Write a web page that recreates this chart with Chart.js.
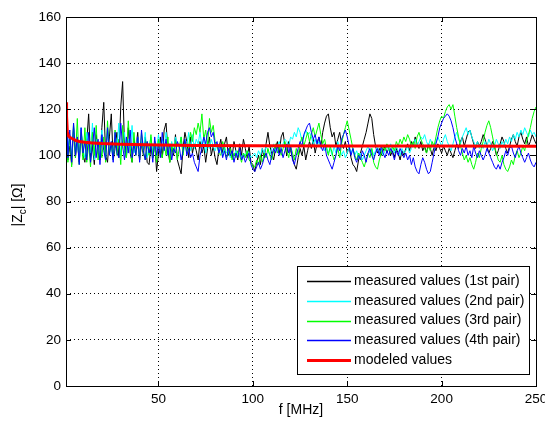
<!DOCTYPE html>
<html>
<head>
<meta charset="utf-8">
<script src="https://cdn.jsdelivr.net/npm/chart.js@4/dist/chart.umd.min.js"></script>
<style>
  body { margin: 0; background: #fff; }
  canvas { display: block; }
</style>
</head>
<body>
<canvas id="chart" width="545" height="425"></canvas>
<script>
// частоты измерений, МГц
const freq = [
  1, 2, 3, 4, 5, 6, 7, 8, 9, 10, 11, 12, 13, 14, 15, 16, 17, 18, 19, 20, 21, 22, 23, 24, 25,
  26, 27, 28, 29, 30, 31, 32, 33, 34, 35, 36, 37, 38, 39, 40, 41, 42, 43, 44, 45, 46, 47, 48, 49, 50,
  51, 52, 53, 54, 55, 56, 57, 58, 59, 60, 61, 62, 63, 64, 65, 66, 67, 68, 69, 70, 71, 72, 73, 74, 75,
  76, 77, 78, 79, 80, 81, 82, 83, 84, 85, 86, 87, 88, 89, 90, 91, 92, 93, 94, 95, 96, 97, 98, 99, 100,
  101, 102, 103, 104, 105, 106, 107, 108, 109, 110, 111, 112, 113, 114, 115, 116, 117, 118, 119, 120, 121, 122, 123, 124, 125,
  126, 127, 128, 129, 130, 131, 132, 133, 134, 135, 136, 137, 138, 139, 140, 141, 142, 143, 144, 145, 146, 147, 148, 149, 150,
  151, 152, 153, 154, 155, 156, 157, 158, 159, 160, 161, 162, 163, 164, 165, 166, 167, 168, 169, 170, 171, 172, 173, 174, 175,
  176, 177, 178, 179, 180, 181, 182, 183, 184, 185, 186, 187, 188, 189, 190, 191, 192, 193, 194, 195, 196, 197, 198, 199, 200,
  201, 202, 203, 204, 205, 206, 207, 208, 209, 210, 211, 212, 213, 214, 215, 216, 217, 218, 219, 220, 221, 222, 223, 224, 225,
  226, 227, 228, 229, 230, 231, 232, 233, 234, 235, 236, 237, 238, 239, 240, 241, 242, 243, 244, 245, 246, 247, 248, 249, 250,
];

// измеренные значения |Zc|, Ом
const pair1 = [
  110, 98, 104, 96, 112, 99, 107, 97, 111, 100,
  97, 106, 118, 99, 104, 96, 109, 101, 98, 112,
  123, 100, 97, 108, 118, 98, 103, 110, 99, 121,
  132, 104, 99, 112, 101, 97, 107, 103, 110, 98,
  105, 100, 108, 97, 96, 104, 99, 106, 93, 101,
  108, 99, 111, 114, 102, 97, 104, 100, 109, 98,
  95, 92, 103, 110, 106, 99, 108, 101, 105, 102,
  98, 106, 101, 104, 97, 103, 108, 100, 104, 99,
  96, 103, 107, 101, 105, 108, 100, 104, 99, 106,
  102, 98, 105, 100, 107, 103, 99, 104, 97, 96,
  93, 97, 100, 96, 103, 99, 105, 110, 104, 101,
  98, 103, 106, 101, 108, 110, 104, 100, 106, 102,
  99, 96, 94, 99, 103, 100, 104, 98, 102, 106,
  103, 107, 101, 105, 108, 104, 110, 114, 117, 118,
  112, 108, 110, 104, 107, 110, 105, 103, 106, 101,
  104, 99, 96, 95, 93, 98, 101, 104, 107, 110,
  114, 118, 116, 109, 104, 101, 103, 100, 102, 104,
  101, 103, 100, 102, 99, 103, 101, 98, 102, 100,
  103, 105, 102, 106, 104, 108, 105, 103, 106, 102,
  104, 101, 105, 103, 100, 104, 102, 105, 103, 101,
  104, 102, 100, 103, 101, 99, 102, 105, 103, 106,
  108, 104, 107, 110, 111, 108, 105, 103, 106, 104,
  106, 109, 107, 104, 101, 103, 106, 104, 100, 102,
  105, 108, 106, 103, 101, 104, 107, 109, 106, 104,
  108, 110, 107, 105, 108, 104, 106, 109, 107, 105,
];
const pair2 = [
  118, 103, 109, 99, 113, 101, 106, 98, 112, 102,
  99, 110, 104, 101, 114, 98, 107, 103, 100, 111,
  104, 99, 112, 101, 106, 98, 109, 103, 114, 100,
  105, 110, 99, 107, 102, 113, 101, 104, 108, 100,
  106, 102, 110, 99, 104, 108, 101, 106, 103, 109,
  101, 107, 103, 110, 104, 100, 106, 102, 108, 105,
  103, 108, 101, 106, 104, 110, 102, 109, 103, 107,
  105, 110, 104, 108, 101, 106, 103, 107, 104, 102,
  105, 101, 103, 100, 104, 101, 102, 99, 101, 100,
  102, 100, 101, 99, 101, 100, 102, 101, 99, 100,
  101, 99, 102, 100, 103, 101, 104, 102, 100, 103,
  105, 102, 104, 106, 103, 105, 107, 106, 104, 108,
  107, 110, 108, 112, 110, 106, 108, 111, 109, 110,
  108, 105, 107, 104, 106, 103, 105, 102, 104, 101,
  103, 100, 104, 101, 106, 103, 100, 102, 99, 101,
  104, 101, 103, 100, 102, 99, 101, 98, 100, 102,
  104, 101, 103, 100, 102, 104, 101, 103, 100, 102,
  104, 102, 105, 103, 101, 104, 102, 100, 103, 101,
  102, 104, 101, 103, 105, 107, 104, 106, 108, 107,
  109, 106, 104, 107, 105, 103, 106, 108, 106, 104,
  107, 109, 106, 104, 102, 105, 108, 110, 107, 105,
  108, 110, 112, 109, 111, 108, 106, 104, 106, 103,
  105, 103, 106, 104, 107, 105, 102, 104, 107, 105,
  103, 106, 104, 107, 105, 108, 106, 109, 107, 110,
  108, 111, 109, 112, 110, 108, 111, 109, 110, 108,
];
const pair3 = [
  129, 97, 108, 95, 114, 99, 116, 96, 110, 98,
  112, 97, 105, 95, 110, 100, 113, 98, 106, 99,
  108, 97, 115, 101, 104, 98, 111, 100, 107, 96,
  113, 102, 99, 115, 103, 97, 110, 100, 106, 98,
  110, 101, 98, 106, 100, 109, 99, 104, 97, 107,
  101, 99, 105, 100, 108, 97, 104, 101, 106, 98,
  103, 108, 100, 106, 101, 104, 110, 106, 112, 109,
  114, 110, 118, 107, 111, 104, 116, 110, 113, 106,
  104, 101, 100, 106, 103, 99, 101, 103, 98, 101,
  99, 102, 100, 97, 101, 99, 102, 98, 97, 95,
  95, 98, 96, 100, 97, 101, 99, 103, 100, 98,
  102, 105, 101, 104, 100, 103, 106, 102, 99, 104,
  101, 98, 103, 100, 105, 108, 104, 107, 110, 106,
  109, 112, 108, 111, 114, 109, 105, 107, 103, 100,
  104, 101, 98, 100, 103, 99, 105, 109, 112, 115,
  111, 107, 103, 100, 98, 101, 99, 97, 95, 98,
  101, 99, 103, 97, 95, 94, 98, 101, 104, 102,
  105, 103, 101, 104, 102, 106, 104, 107, 105, 108,
  106, 109, 107, 104, 106, 103, 108, 110, 107, 105,
  103, 101, 104, 102, 106, 104, 108, 112, 115, 117,
  116, 119, 121, 122, 120, 122, 117, 112, 108, 104,
  101, 98, 100, 97, 99, 96, 94, 97, 101, 99,
  103, 106, 110, 113, 115, 112, 108, 104, 101, 98,
  97, 100, 96, 94, 93, 95, 98, 96, 100, 102,
  99, 101, 104, 102, 106, 109, 112, 116, 119, 121,
];
const pair4 = [
  128, 99, 111, 97, 114, 100, 108, 96, 112, 101,
  106, 98, 110, 97, 104, 112, 99, 107, 96, 109,
  102, 98, 112, 100, 106, 97, 110, 101, 99, 114,
  104, 98, 108, 101, 111, 99, 105, 100, 108, 97,
  111, 102, 98, 106, 101, 104, 97, 108, 100, 105,
  99, 110, 102, 107, 100, 105, 98, 103, 101, 106,
  104, 98, 102, 107, 100, 103, 99, 101, 97, 95,
  93, 100, 103, 108, 105, 110, 112, 108, 110, 104,
  106, 101, 104, 99, 102, 98, 103, 100, 102, 97,
  101, 99, 103, 98, 100, 97, 99, 101, 96, 94,
  93, 95, 97, 94, 96, 99, 101, 98, 96, 100,
  103, 101, 104, 100, 103, 99, 102, 105, 101, 104,
  98, 96, 100, 103, 106, 104, 109, 111, 113, 114,
  110, 107, 109, 105, 108, 104, 102, 105, 100, 98,
  96, 94, 97, 100, 104, 102, 107, 109, 111, 108,
  104, 100, 103, 99, 97, 100, 98, 102, 100, 97,
  101, 103, 100, 98, 101, 103, 100, 104, 101, 99,
  102, 100, 103, 101, 98, 102, 100, 103, 101, 99,
  101, 98, 100, 96, 99, 95, 93, 92, 96, 99,
  97, 94, 92, 93, 97, 101, 105, 108, 112, 114,
  116, 117, 118, 117, 115, 112, 108, 105, 102, 100,
  103, 101, 104, 100, 102, 99, 104, 101, 99, 102,
  100, 98, 100, 103, 101, 99, 97, 95, 94, 96,
  94, 97, 99, 102, 100, 103, 104, 101, 99, 102,
  104, 101, 99, 97, 99, 101, 98, 96, 95, 97,
];

// модельная кривая
const modeledFreq = [1, 1.3, 1.7, 2.3, 3, 4.4, 6, 8, 11, 15, 20, 30, 50, 70, 100, 150, 200, 250];
const modeled = [123, 117, 110, 108.5, 107.8, 107.2, 106.5, 106, 105.7, 105.4, 105.1, 104.8, 104.5, 104.3, 104.2, 104.1, 104.1, 104];

const xTicks = [50, 100, 150, 200, 250];
const yTicks = [0, 20, 40, 60, 80, 100, 120, 140, 160];

const FONT = "'Liberation Sans', Arial, sans-serif";

function xy(xs, ys) {
  return xs.map((x, i) => ({ x: x, y: ys[i] }));
}

function series(label, color, xs, ys, width, order) {
  return {
    label: label,
    data: xy(xs, ys),
    borderColor: color,
    backgroundColor: color,
    borderWidth: width,
    pointRadius: 0,
    tension: 0,
    fill: false,
    order: order,
  };
}

// рамка осей, засечки внутрь, подпись Y с индексом и легенда
const matlabLook = {
  id: "matlabLook",
  afterDatasetsDraw(chart) {
    const ctx = chart.ctx;
    const a = chart.chartArea;
    const sx = chart.scales.x;
    const sy = chart.scales.y;
    ctx.save();
    ctx.strokeStyle = "#000";
    ctx.lineWidth = 1;
    ctx.beginPath();
    xTicks.forEach((v) => {
      const px = Math.round(sx.getPixelForValue(v)) + 0.5;
      ctx.moveTo(px, a.bottom);
      ctx.lineTo(px, a.bottom - 5);
      ctx.moveTo(px, a.top);
      ctx.lineTo(px, a.top + 5);
    });
    yTicks.forEach((v) => {
      const py = Math.round(sy.getPixelForValue(v)) + 0.5;
      ctx.moveTo(a.left, py);
      ctx.lineTo(a.left + 5, py);
      ctx.moveTo(a.right, py);
      ctx.lineTo(a.right - 5, py);
    });
    ctx.stroke();
    ctx.strokeRect(Math.round(a.left) + 0.5, Math.round(a.top) + 0.5,
      Math.round(a.right - a.left), Math.round(a.bottom - a.top));

    // подпись оси Y: |Zc| [Ω]
    ctx.translate(18, 205);
    ctx.rotate(-Math.PI / 2);
    ctx.fillStyle = "#000";
    ctx.textBaseline = "middle";
    const f1 = "14px " + FONT;
    const f2 = "10px " + FONT;
    ctx.font = f1;
    const p1 = "|Z";
    const p3 = "| [Ω]";
    const w1 = ctx.measureText(p1).width;
    const w3 = ctx.measureText(p3).width;
    ctx.font = f2;
    const w2 = ctx.measureText("c").width;
    let x0 = -(w1 + w2 + w3) / 2;
    ctx.font = f1;
    ctx.fillText(p1, x0, 0);
    ctx.font = f2;
    ctx.fillText("c", x0 + w1, 5);
    ctx.font = f1;
    ctx.fillText(p3, x0 + w1 + w2, 0);
    ctx.restore();

    // легенда
    ctx.save();
    const box = { left: 297, top: 266, right: 529, bottom: 374 };
    ctx.fillStyle = "#fff";
    ctx.fillRect(box.left, box.top, box.right - box.left, box.bottom - box.top);
    ctx.strokeStyle = "#000";
    ctx.lineWidth = 1;
    ctx.strokeRect(box.left + 0.5, box.top + 0.5, box.right - box.left, box.bottom - box.top);
    ctx.font = "14px " + FONT;
    ctx.textBaseline = "middle";
    chart.data.datasets.forEach((ds, i) => {
      const y = 281 + i * 19.8;
      ctx.strokeStyle = ds.borderColor;
      ctx.lineWidth = ds.borderWidth > 1 ? ds.borderWidth : 1.5;
      ctx.beginPath();
      ctx.moveTo(307, Math.round(y) + 0.5);
      ctx.lineTo(351, Math.round(y) + 0.5);
      ctx.stroke();
      ctx.fillStyle = "#000";
      ctx.fillText(ds.label, 354, y);
    });
    ctx.restore();
  },
};

new Chart(document.getElementById("chart"), {
  type: "line",
  data: {
    datasets: [
      series("measured values (1st pair)", "#000000", freq, pair1, 1, 4),
      series("measured values (2nd pair)", "#00ffff", freq, pair2, 1, 3),
      series("measured values (3rd pair)", "#00ff00", freq, pair3, 1, 2),
      series("measured values (4th pair)", "#0000ff", freq, pair4, 1, 1),
      series("modeled values", "#ff0000", modeledFreq, modeled, 3, 0),
    ],
  },
  options: {
    responsive: false,
    animation: false,
    layout: { padding: { left: 0, right: 9, top: 17, bottom: 0 } },
    plugins: {
      legend: { display: false },
      tooltip: { enabled: false },
    },
    scales: {
      x: {
        type: "linear",
        min: 1,
        max: 250,
        afterBuildTicks: (scale) => {
          scale.ticks = xTicks.map((v) => ({ value: v }));
        },
        afterFit: (scale) => {
          scale.height = 39;
          scale.paddingLeft = 0;
          scale.paddingRight = 0;
        },
        grid: { color: "#000", lineWidth: 1, drawTicks: false },
        border: { display: false, dash: [1, 3] },
        ticks: { color: "#000", font: { size: 13.5, family: FONT }, padding: 5, maxRotation: 0 },
        title: {
          display: true,
          text: "f [MHz]",
          color: "#000",
          font: { size: 14, family: FONT },
          padding: { top: 0, bottom: 6 },
        },
      },
      y: {
        min: 0,
        max: 160,
        afterBuildTicks: (scale) => {
          scale.ticks = yTicks.map((v) => ({ value: v }));
        },
        afterFit: (scale) => {
          scale.width = 66;
        },
        grid: { color: "#000", lineWidth: 1, drawTicks: false },
        border: { display: false, dash: [1, 3] },
        ticks: { color: "#000", font: { size: 13.5, family: FONT }, padding: 5 },
      },
    },
  },
  plugins: [matlabLook],
});
</script>
</body>
</html>
